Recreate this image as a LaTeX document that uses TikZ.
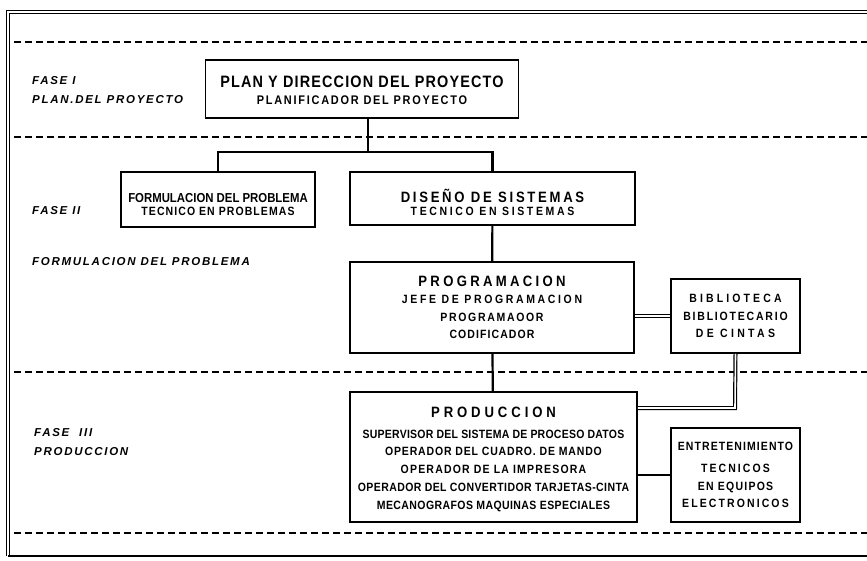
\documentclass[tikz,border=0pt]{standalone}
\usepackage{fontspec}
\setmainfont{Liberation Sans}
\newcommand{\esp}[2]{{\addfontfeatures{LetterSpace=#1}#2}}

\begin{document}
\begin{tikzpicture}[x=1pt, y=-1pt]
	\tikzstyle{caja} = [draw, line width=1.8pt, align=center, inner sep=0pt, font=\bfseries\fontsize{12}{17.5}\selectfont\addfontfeatures{FakeStretch=0.875}]
	\tikzstyle{fase} = [anchor=west, inner sep=0pt, font=\bfseries\itshape\fontsize{11.5}{12}\selectfont\addfontfeatures{LetterSpace=15}]
	\tikzstyle{corte} = [dash pattern=on 7pt off 4pt, line width=1.1pt]
	\tikzstyle{enlace} = [line width=2.2pt]
	\tikzstyle{doble} = [double, double distance=1.6pt, line width=1.2pt]
	\useasboundingbox (0,0) rectangle (867,560);
	% marco
	\draw [double, double distance=2.5pt, line width=1pt] (867,12) -- (8,12) -- (8,556);
	\draw [line width=1.4pt] (8,556) -- (867,556);
	\foreach \y in {42, 137, 372, 533}
		\draw [corte] (14,\y) -- (867,\y);
	% fases
	\node [fase] (f1) at (32,81) {FASE\ I};
	\node [fase] (t1) at (32,100) {PLAN.DEL PROYECTO};
	\node [fase] (f2) at (32,211) {FASE\ II};
	\node [fase] (t2) at (32,262) {FORMULACION DEL PROBLEMA};
	\node [fase] (f3) at (34,433) {FASE\ \ III};
	\node [fase] (t3) at (34,452) {PRODUCCION};
	% cajas
	\node [caja, minimum width=313, minimum height=58] (plan) at (362,89)
		{\rule{0pt}{14pt}\esp{7}{\fontsize{16.5}{18}\selectfont PLAN Y DIRECCION DEL PROYECTO}\\ \esp{14}{\fontsize{12.5}{13}\selectfont PLANIFICADOR DEL PROYECTO}};
	\node [caja, minimum width=194, minimum height=55, font=\bfseries\fontsize{12}{13.5}\selectfont\addfontfeatures{FakeStretch=0.875}] (form) at (218,199.5)
		{\rule{0pt}{19pt}{\fontsize{13}{14}\selectfont FORMULACION DEL PROBLEMA}\\ \esp{9}{TECNICO EN PROBLEMAS}};
	\node [caja, minimum width=285, minimum height=53, font=\bfseries\fontsize{12}{14}\selectfont\addfontfeatures{FakeStretch=0.875}] (dis) at (492.5,198.5)
		{\rule{0pt}{21pt}\esp{18}{\fontsize{15}{16}\selectfont DISEÑO DE SISTEMAS}\\[-1.5pt] \esp{22}{TECNICO EN SISTEMAS}};
	\node [caja, minimum width=284, minimum height=91] (prog) at (492,307.5)
		{\esp{22}{\fontsize{15}{16}\selectfont PROGRAMACION}\\ \esp{22}{JEFE DE PROGRAMACION}\\ \esp{14}{PROGRAMAOOR}\\ \esp{9}{CODIFICADOR}};
	\node [caja, minimum width=129, minimum height=74] (bib) at (735.5,316)
		{\esp{26}{BIBLIOTECA}\\ \esp{15}{BIBLIOTECARIO}\\ \esp{28}{DE CINTAS}};
	\node [caja, minimum width=287, minimum height=130, font=\bfseries\fontsize{12}{17.75}\selectfont\addfontfeatures{FakeStretch=0.875}] (prod) at (493.5,457)
		{\rule{0pt}{15pt}\esp{26}{\fontsize{15}{16}\selectfont PRODUCCION}\\[3pt] \esp{2}{SUPERVISOR DEL SISTEMA DE PROCESO DATOS}\\ \esp{7}{OPERADOR DEL CUADRO. DE MANDO}\\ \esp{10}{OPERADOR DE LA IMPRESORA}\\ \esp{3.5}{OPERADOR DEL CONVERTIDOR TARJETAS-CINTA}\\ \esp{3.5}{MECANOGRAFOS MAQUINAS ESPECIALES}};
	\node [caja, minimum width=129, minimum height=94] (ent) at (735.5,475)
		{\esp{9}{ENTRETENIMIENTO}\\[5pt] \esp{17}{TECNICOS}\\ \esp{10.5}{EN EQUIPOS}\\ \esp{17.5}{ELECTRONICOS}};
	% conexiones
	\coordinate (rama) at (368,152);
	\coordinate (vuelta) at (735,408);
	\draw [enlace] (plan.south -| rama) -- (rama);
	\draw [enlace] (form.north) |- (rama) -| (dis.north);
	\draw [enlace] (dis) -- (prog);
	\draw [enlace] (prog) -- (prod);
	\draw [doble] (bib.west) -- (bib.west -| prog.east);
	\draw [doble] (bib.south) -- (vuelta) -- (vuelta -| prod.east);
	\draw [enlace] (ent.west) -- (ent.west -| prod.east);
\end{tikzpicture}
\end{document}
